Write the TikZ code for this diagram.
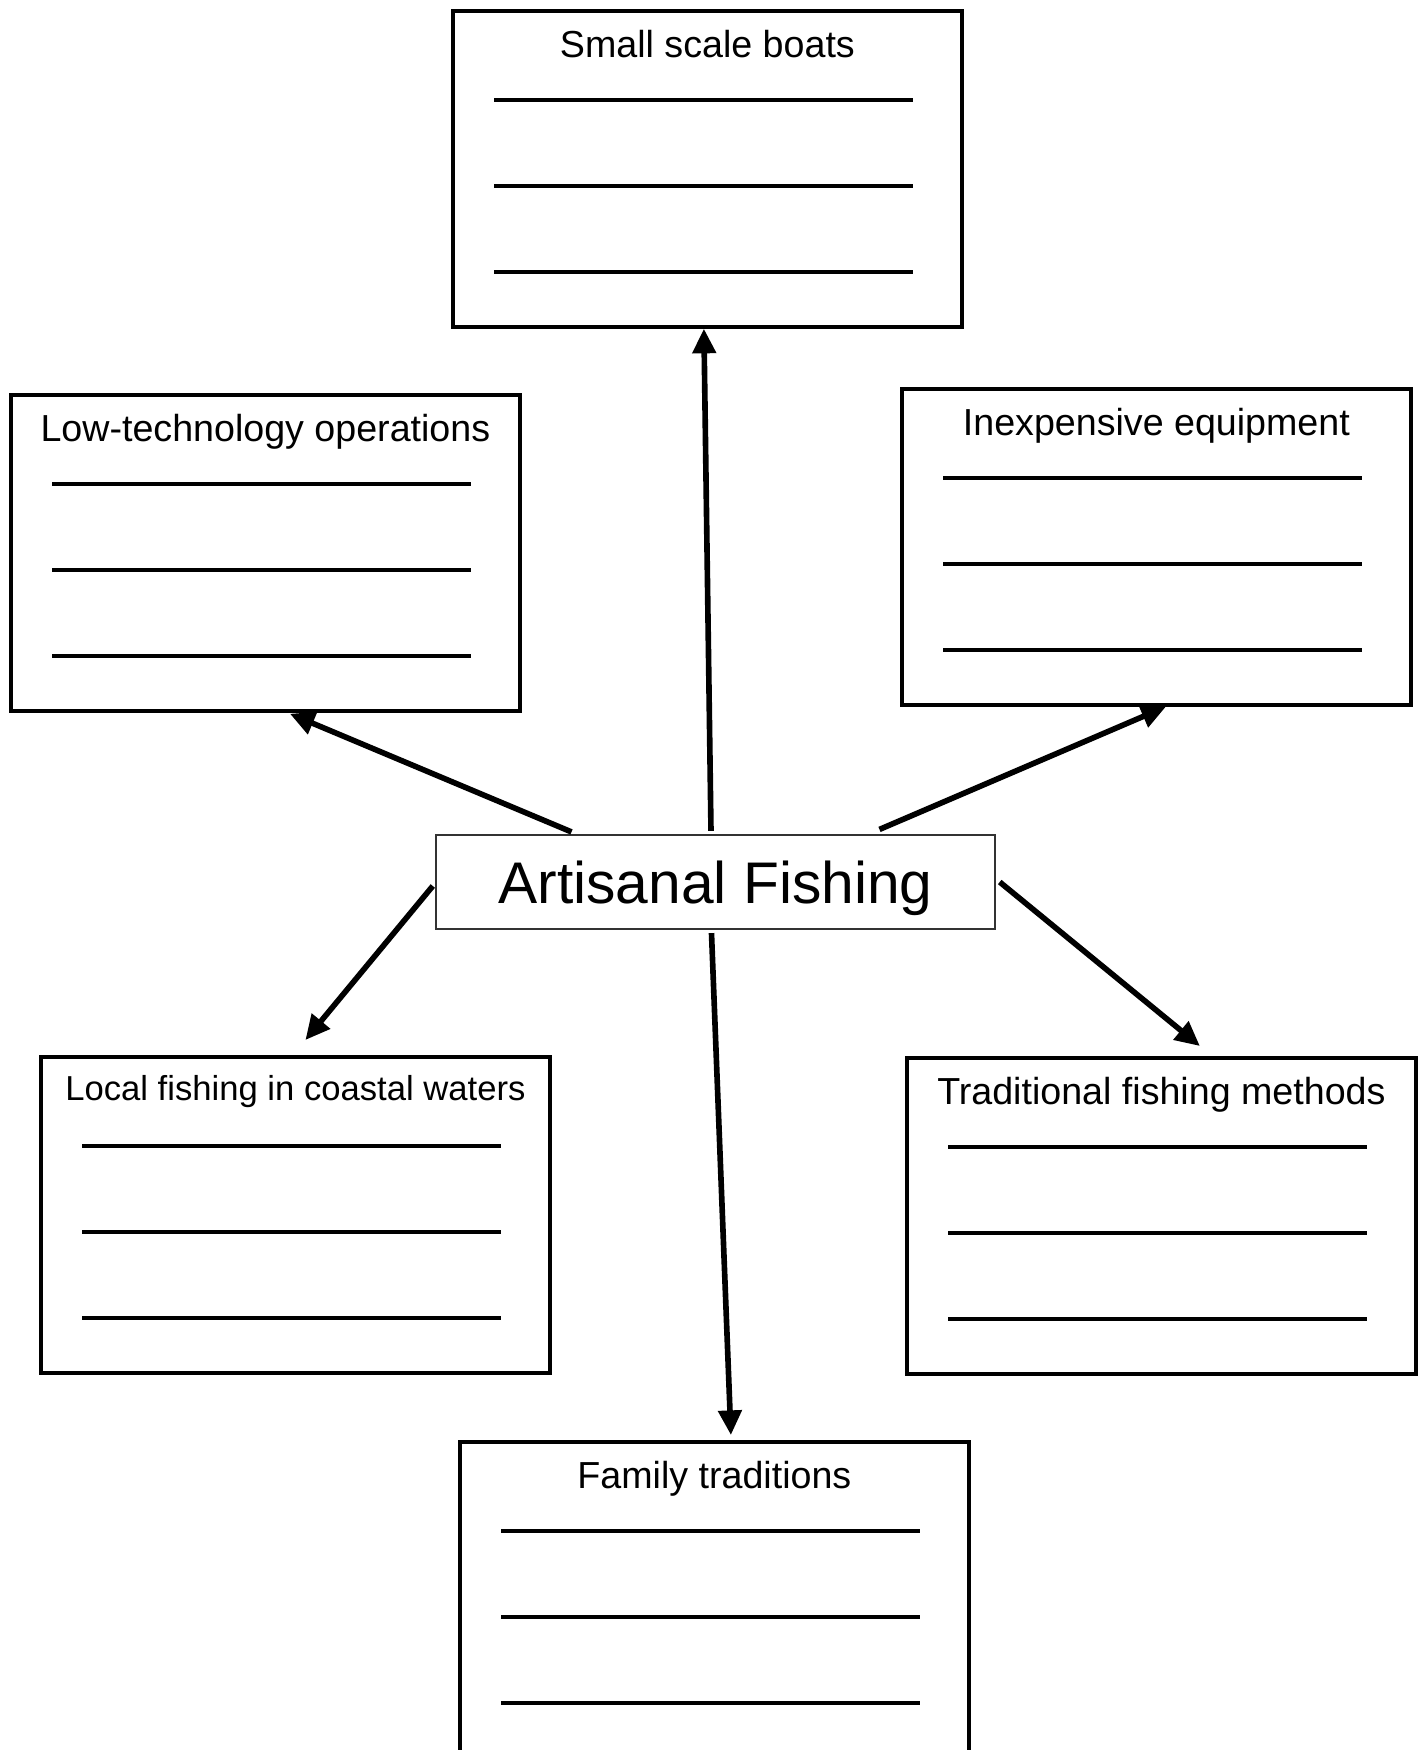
\documentclass[tikz,border=0pt]{standalone}
\usepackage{fontspec}
\setmainfont{Liberation Sans}
\usetikzlibrary{arrows.meta,calc}

\begin{document}
\begin{tikzpicture}
  [x=0.01cm,y=-0.01cm,
   box/.style={draw,line width=1pt,minimum width=5.09cm,minimum height=3.16cm,inner sep=0pt,anchor=north west},
   title/.style={anchor=base,inner sep=0pt},
   rule/.style={line width=1.05pt},
   link/.style={line width=1.6pt,-{Triangle[length=7pt,width=6.5pt]}}]
  \useasboundingbox (0,0) rectangle (1421,1750);

  \node[draw=black!80,line width=0.6pt,minimum width=5.58cm,minimum height=0.94cm,
        inner sep=0pt,text depth=0pt,font=\fontsize{16.7}{20}\selectfont] (centre) at (715.5,882) {Artisanal Fishing};

  % boxes: name / corner / title / title size / title baseline
  \foreach \nm/\x/\y/\ttl/\fs/\bl in {boats/451/9/Small scale boats/10.7/48,
      lowtech/9/393/Low-technology operations/10.7/48,
      inexp/900/387/Inexpensive equipment/10.7/48,
      local/39/1055/Local fishing in coastal waters/9.85/45,
      trad/905/1056/Traditional fishing methods/10.7/48,
      family/458/1440/Family traditions/10.7/48}
  {
    \node[box] (\nm) at (\x,\y) {};
    \node[title,font=\fontsize{\fs}{12}\selectfont] (\nm-t) at ($(\nm.north)+(0,\bl)$) {\ttl};
    \foreach \dy in {91,177,263}
      \draw[rule] ($(\nm.north west)+(43,\dy)$) -- ($(\nm.north east)+(-51,\dy)$);
  }

  \draw[link] ($(centre.north)+(-4.5,-3)$) -- ($(boats.south)+(-3.5,0)$);
  \draw[link] ($(centre.north)+(-144,-2)$) -- ($(lowtech.south)+(24.5,1)$);
  \draw[link] ($(centre.north)+(164,-4.5)$) -- ($(inexp.south)+(9.5,0)$);
  \draw[link] ($(centre.west)+(-2.5,4)$) -- ($(local.north)+(10,-15)$);
  \draw[link] ($(centre.east)+(4,0)$) -- ($(trad.north)+(38.5,-10)$);
  \draw[link] ($(centre.south)+(-4,3)$) -- ($(family.north)+(16.5,-5)$);

\end{tikzpicture}
\end{document}
